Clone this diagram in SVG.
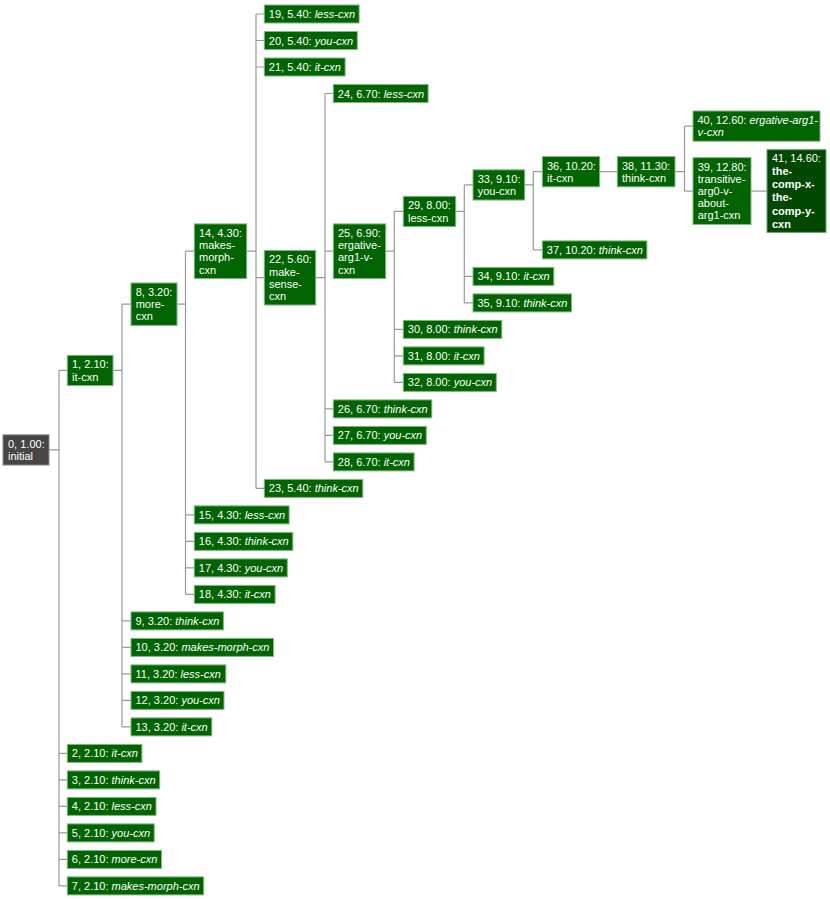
<svg xmlns="http://www.w3.org/2000/svg" width="830" height="899" viewBox="0 0 830 899">
<style>
.n{fill:#006400;stroke:#84b384;stroke-width:1}
.g{fill:#464646;stroke:#8a8a8a;stroke-width:1}
.d{fill:#004700;stroke:#6f9f6f;stroke-width:1}
text{font-family:"Liberation Sans",Arial,Helvetica,sans-serif;font-size:11px;fill:#ffffff}
.i{font-style:italic}
.b{font-weight:bold}
.c{fill:none;stroke:#9a9a9a;stroke-width:1.2}
</style>
<g id="connectors">
<path class="c" d="M49 449.95H59M59 370.45V885.9M59 370.45H67.3M59 753.4H67.3M59 779.9H67.3M59 806.4H67.3M59 832.9H67.3M59 859.4H67.3M59 885.9H67.3"/>
<path class="c" d="M113 370.45H122M122 304.2V726.9M122 304.2H131M122 620.9H131M122 647.4H131M122 673.9H131M122 700.4H131M122 726.9H131"/>
<path class="c" d="M177 304.2H185.5M185.5 251.2V594.4M185.5 251.2H194.3M185.5 514.9H194.3M185.5 541.4H194.3M185.5 567.9H194.3M185.5 594.4H194.3"/>
<path class="c" d="M246.7 251.2H256M256 14V488.4M256 14H264.3M256 40.5H264.3M256 67H264.3M256 277.7H264.3M256 488.4H264.3"/>
<path class="c" d="M315.7 277.7H325M325 93.5V461.9M325 93.5H333.3M325 251.2H333.3M325 408.9H333.3M325 435.4H333.3M325 461.9H333.3"/>
<path class="c" d="M385.7 251.2H394.3M394.3 211.45V382.4M394.3 211.45H403.3M394.3 329.4H403.3M394.3 355.9H403.3M394.3 382.4H403.3"/>
<path class="c" d="M455.7 211.45H464.3M464.3 184.95V302.9M464.3 184.95H473M464.3 276.4H473M464.3 302.9H473"/>
<path class="c" d="M524.7 184.95H533.3M533.3 171.7V249.9M533.3 171.7H542.3M533.3 249.9H542.3"/>
<path class="c" d="M599.7 171.7H617.3"/>
<path class="c" d="M675 171.7H684.5M684.5 126.1V191.05M684.5 126.1H693M684.5 191.05H693"/>
<path class="c" d="M751 191.05H767"/>
</g>
<g id="node0"><rect class="g" x="3" y="434.85" width="46" height="30.2"/><text x="8" y="447.85">0, 1.00:<tspan x="8" dy="12.2">initial</tspan></text></g>
<g id="node1"><rect class="n" x="67.3" y="355.35" width="45.7" height="30.2"/><text x="72" y="368.35">1, 2.10:<tspan x="72" dy="12.2">it-cxn</tspan></text></g>
<g id="node2"><rect class="n" x="67.3" y="744.4" width="74.6" height="18"/><text x="71.8" y="757.4">2, 2.10: <tspan class="i">it-cxn</tspan></text></g>
<g id="node3"><rect class="n" x="67.3" y="770.9" width="92.4" height="18"/><text x="71.8" y="783.9">3, 2.10: <tspan class="i">think-cxn</tspan></text></g>
<g id="node4"><rect class="n" x="67.3" y="797.4" width="88.7" height="18"/><text x="71.8" y="810.4">4, 2.10: <tspan class="i">less-cxn</tspan></text></g>
<g id="node5"><rect class="n" x="67.3" y="823.9" width="86.9" height="18"/><text x="71.8" y="836.9">5, 2.10: <tspan class="i">you-cxn</tspan></text></g>
<g id="node6"><rect class="n" x="67.3" y="850.4" width="94.2" height="18"/><text x="71.8" y="863.4">6, 2.10: <tspan class="i">more-cxn</tspan></text></g>
<g id="node7"><rect class="n" x="67.3" y="876.9" width="136.4" height="18"/><text x="71.8" y="889.9">7, 2.10: <tspan class="i">makes-morph-cxn</tspan></text></g>
<g id="node8"><rect class="n" x="131" y="283" width="46" height="42.4"/><text x="135.7" y="296">8, 3.20:<tspan x="135.7" dy="12.2">more-</tspan><tspan x="135.7" dy="12.2">cxn</tspan></text></g>
<g id="node9"><rect class="n" x="131" y="611.9" width="92.4" height="18"/><text x="135.5" y="624.9">9, 3.20: <tspan class="i">think-cxn</tspan></text></g>
<g id="node10"><rect class="n" x="131" y="638.4" width="142.5" height="18"/><text x="135.5" y="651.4">10, 3.20: <tspan class="i">makes-morph-cxn</tspan></text></g>
<g id="node11"><rect class="n" x="131" y="664.9" width="94.8" height="18"/><text x="135.5" y="677.9">11, 3.20: <tspan class="i">less-cxn</tspan></text></g>
<g id="node12"><rect class="n" x="131" y="691.4" width="93" height="18"/><text x="135.5" y="704.4">12, 3.20: <tspan class="i">you-cxn</tspan></text></g>
<g id="node13"><rect class="n" x="131" y="717.9" width="80.8" height="18"/><text x="135.5" y="730.9">13, 3.20: <tspan class="i">it-cxn</tspan></text></g>
<g id="node14"><rect class="n" x="194.3" y="223.9" width="52.4" height="54.6"/><text x="199" y="236.9">14, 4.30:<tspan x="199" dy="12.2">makes-</tspan><tspan x="199" dy="12.2">morph-</tspan><tspan x="199" dy="12.2">cxn</tspan></text></g>
<g id="node15"><rect class="n" x="194.3" y="505.9" width="94.8" height="18"/><text x="198.8" y="518.9">15, 4.30: <tspan class="i">less-cxn</tspan></text></g>
<g id="node16"><rect class="n" x="194.3" y="532.4" width="98.5" height="18"/><text x="198.8" y="545.4">16, 4.30: <tspan class="i">think-cxn</tspan></text></g>
<g id="node17"><rect class="n" x="194.3" y="558.9" width="93" height="18"/><text x="198.8" y="571.9">17, 4.30: <tspan class="i">you-cxn</tspan></text></g>
<g id="node18"><rect class="n" x="194.3" y="585.4" width="80.8" height="18"/><text x="198.8" y="598.4">18, 4.30: <tspan class="i">it-cxn</tspan></text></g>
<g id="node19"><rect class="n" x="264.3" y="5" width="94.8" height="18"/><text x="268.8" y="18">19, 5.40: <tspan class="i">less-cxn</tspan></text></g>
<g id="node20"><rect class="n" x="264.3" y="31.5" width="93" height="18"/><text x="268.8" y="44.5">20, 5.40: <tspan class="i">you-cxn</tspan></text></g>
<g id="node21"><rect class="n" x="264.3" y="58" width="80.8" height="18"/><text x="268.8" y="71">21, 5.40: <tspan class="i">it-cxn</tspan></text></g>
<g id="node22"><rect class="n" x="264.3" y="250.4" width="51.4" height="54.6"/><text x="269" y="263.4">22, 5.60:<tspan x="269" dy="12.2">make-</tspan><tspan x="269" dy="12.2">sense-</tspan><tspan x="269" dy="12.2">cxn</tspan></text></g>
<g id="node23"><rect class="n" x="264.3" y="479.4" width="98.5" height="18"/><text x="268.8" y="492.4">23, 5.40: <tspan class="i">think-cxn</tspan></text></g>
<g id="node24"><rect class="n" x="333.3" y="84.5" width="94.8" height="18"/><text x="337.8" y="97.5">24, 6.70: <tspan class="i">less-cxn</tspan></text></g>
<g id="node25"><rect class="n" x="333.3" y="223.9" width="52.4" height="54.6"/><text x="338" y="236.9">25, 6.90:<tspan x="338" dy="12.2">ergative-</tspan><tspan x="338" dy="12.2">arg1-v-</tspan><tspan x="338" dy="12.2">cxn</tspan></text></g>
<g id="node26"><rect class="n" x="333.3" y="399.9" width="98.5" height="18"/><text x="337.8" y="412.9">26, 6.70: <tspan class="i">think-cxn</tspan></text></g>
<g id="node27"><rect class="n" x="333.3" y="426.4" width="93" height="18"/><text x="337.8" y="439.4">27, 6.70: <tspan class="i">you-cxn</tspan></text></g>
<g id="node28"><rect class="n" x="333.3" y="452.9" width="80.8" height="18"/><text x="337.8" y="465.9">28, 6.70: <tspan class="i">it-cxn</tspan></text></g>
<g id="node29"><rect class="n" x="403.3" y="196.35" width="52.4" height="30.2"/><text x="408" y="209.35">29, 8.00:<tspan x="408" dy="12.2">less-cxn</tspan></text></g>
<g id="node30"><rect class="n" x="403.3" y="320.4" width="98.5" height="18"/><text x="407.8" y="333.4">30, 8.00: <tspan class="i">think-cxn</tspan></text></g>
<g id="node31"><rect class="n" x="403.3" y="346.9" width="80.8" height="18"/><text x="407.8" y="359.9">31, 8.00: <tspan class="i">it-cxn</tspan></text></g>
<g id="node32"><rect class="n" x="403.3" y="373.4" width="93" height="18"/><text x="407.8" y="386.4">32, 8.00: <tspan class="i">you-cxn</tspan></text></g>
<g id="node33"><rect class="n" x="473" y="169.85" width="51.7" height="30.2"/><text x="477.7" y="182.85">33, 9.10:<tspan x="477.7" dy="12.2">you-cxn</tspan></text></g>
<g id="node34"><rect class="n" x="473" y="267.4" width="80.8" height="18"/><text x="477.5" y="280.4">34, 9.10: <tspan class="i">it-cxn</tspan></text></g>
<g id="node35"><rect class="n" x="473" y="293.9" width="98.5" height="18"/><text x="477.5" y="306.9">35, 9.10: <tspan class="i">think-cxn</tspan></text></g>
<g id="node36"><rect class="n" x="542.3" y="156.6" width="57.4" height="30.2"/><text x="547" y="169.6">36, 10.20:<tspan x="547" dy="12.2">it-cxn</tspan></text></g>
<g id="node37"><rect class="n" x="542.3" y="240.9" width="104.6" height="18"/><text x="546.8" y="253.9">37, 10.20: <tspan class="i">think-cxn</tspan></text></g>
<g id="node38"><rect class="n" x="617.3" y="156.6" width="57.7" height="30.2"/><text x="622" y="169.6">38, 11.30:<tspan x="622" dy="12.2">think-cxn</tspan></text></g>
<g id="node40"><rect class="n" x="693" y="111" width="127" height="30.2"/><text x="697.5" y="124">40, 12.60: <tspan class="i">ergative-arg1-</tspan><tspan class="i" x="697.5" dy="12.2">v-cxn</tspan></text></g>
<g id="node39"><rect class="n" x="693" y="157.65" width="58" height="66.8"/><text x="697.7" y="170.65">39, 12.80:<tspan x="697.7" dy="12.2">transitive-</tspan><tspan x="697.7" dy="12.2">arg0-v-</tspan><tspan x="697.7" dy="12.2">about-</tspan><tspan x="697.7" dy="12.2">arg1-cxn</tspan></text></g>
<g id="node41"><rect class="d" x="767" y="149.7" width="59" height="82.7"/><text x="772" y="161.7">41, 14.60:<tspan class="b" x="772" dy="13.2">the-</tspan><tspan class="b" x="772" dy="13.2">comp-x-</tspan><tspan class="b" x="772" dy="13.2">the-</tspan><tspan class="b" x="772" dy="13.2">comp-y-</tspan><tspan class="b" x="772" dy="13.2">cxn</tspan></text></g>
</svg>
